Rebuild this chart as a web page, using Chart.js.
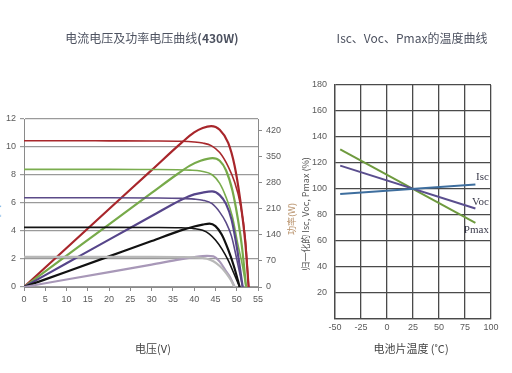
<!DOCTYPE html>
<html>
<head>
<meta charset="utf-8">
<script src="https://cdn.jsdelivr.net/npm/chart.js@4.4.1/dist/chart.umd.min.js"></script>
<style>
  html, body { margin:0; padding:0; background:#fff; }
  body { width:512px; height:373px; overflow:hidden; position:relative; }
  canvas { position:absolute; top:0; }
  .t { position:absolute; transform:translate(-50%,-50%); white-space:nowrap;
       font-family:"Noto Sans CJK SC","Noto Sans",sans-serif; color:#4d5260; line-height:1; }
  .rot { transform:translate(-50%,-50%) rotate(-90deg); }
</style>
</head>
<body>
<canvas id="left" width="290" height="373" style="left:0;width:290px;height:373px"></canvas>
<canvas id="right" width="222" height="373" style="left:290px;width:222px;height:373px"></canvas>

<div class="t" style="left:152px;top:38px;font-size:12px;">电流电压及功率电压曲线<b>(430W)</b></div>
<div class="t" style="left:412px;top:38px;font-size:12px;">Isc、Voc、Pmax的温度曲线</div>
<div class="t" style="left:153px;top:348px;font-size:11px;color:#444;">电压(V)</div>
<div class="t" style="left:411px;top:348px;font-size:11px;color:#444;">电池片温度 (˚C)</div>
<div class="t rot" style="left:-6px;top:223px;font-size:12px;color:#3a8fd8;">电流(A)</div>
<div class="t rot" style="left:291px;top:219px;font-size:9px;color:#b8916a;">功率(W)</div>
<div class="t rot" style="left:305px;top:214px;font-size:9px;color:#555;">归一化的 Isc, Voc, Pmax (%)</div>

<script>
// ---------- Left chart: I-V and P-V curves (430W) ----------
// 1000 W/m2 (red)
const vRed = [0, 10, 20, 30, 37, 40, 42, 44, 46, 48, 49.5, 50.8, 52, 52.8];
const iRed = [10.45, 10.45, 10.44, 10.43, 10.41, 10.36, 10.28, 10.1, 9.6, 8.6, 7.5, 6.0, 3.5, 0];
const pRed = [0, 104.4, 209, 313, 386, 414, 426, 431, 421, 386, 325, 235, 120, 0];
// 800 W/m2 (green)
const vGreen = [0, 10, 20, 30, 36, 39, 41.5, 44.3, 46, 47.5, 49, 50.3, 51.3, 52.2];
const iGreen = [8.4, 8.4, 8.4, 8.39, 8.38, 8.35, 8.28, 8.0, 7.4, 6.4, 5.0, 3.0, 1.6, 0];
const pGreen = [0, 84, 168, 252, 302, 325, 338, 345, 338, 312, 258, 180, 101, 0];
// 600 W/m2 (purple)
const vPurple = [0, 10, 20, 30, 37, 40, 42, 44.2, 46, 47.5, 48.8, 50.1, 51.4];
const iPurple = [6.37, 6.37, 6.37, 6.36, 6.33, 6.28, 6.2, 5.95, 5.35, 4.6, 3.6, 1.85, 0];
const pPurple = [0, 63.5, 127, 190, 234, 248, 253, 256, 246, 222, 180, 101, 0];
// 400 W/m2 (black)
const vBlack = [0, 10, 20, 30, 36.7, 40, 42, 43.6, 45, 46.5, 48, 49.3, 50.7];
const iBlack = [4.26, 4.26, 4.26, 4.25, 4.23, 4.17, 4.05, 3.78, 3.35, 2.72, 1.9, 1.0, 0];
const pBlack = [0, 41, 82, 123, 151, 162, 167, 170, 163, 140, 100, 57, 0];
// 200 W/m2 (light)
const vLight = [0, 10, 20, 30, 36.7, 40, 42, 43, 44.5, 46, 47.5, 48.5, 49.5];
const iLight = [2.15, 2.15, 2.15, 2.15, 2.14, 2.12, 2.07, 2.02, 1.84, 1.5, 1.0, 0.55, 0];
const pLight = [0, 20, 40, 60, 74, 80, 83, 83.5, 82, 68, 42, 25, 0];

const currentTicks = [0, 2, 4, 6, 8, 10, 12];
const powerTicks = [0, 70, 140, 210, 280, 350, 420];
const voltageTicks = [0, 5, 10, 15, 20, 25, 30, 35, 40, 45, 50, 55];

// ---------- Right chart: temperature curves ----------
const tempC = [-45, 85];
const iscPct = [96.2, 103.4];
const vocPct = [118, 85];
const pmaxPct = [130.5, 74];
const seriesNames = ['Isc', 'Voc', 'Pmax'];
const tempTicks = [-50, -25, 0, 25, 50, 75, 100];
const pctTicks = [0, 20, 40, 60, 80, 100, 120, 140, 160, 180];

function pts(xs, ys) { return xs.map((x, i) => ({ x: x, y: ys[i] })); }

const tickFont = { family: '"Liberation Sans", Arial, sans-serif', size: 9 };
const tickColor = '#5a5a5a';

function ivSet(xs, ys, color, w) {
  return { data: pts(xs, ys), yAxisID: 'y', borderColor: color, borderWidth: w || 1.6, fill: false };
}
function pvSet(xs, ys, color) {
  return { data: pts(xs, ys), yAxisID: 'y1', borderColor: color, borderWidth: 2.2, fill: false };
}

new Chart(document.getElementById('left'), {
  type: 'line',
  data: {
    datasets: [
      ivSet(vLight, iLight, '#b8b8b8', 2.2),
      pvSet(vLight, pLight, '#a898b8'),
      ivSet(vBlack, iBlack, '#141414'),
      pvSet(vBlack, pBlack, '#111111'),
      ivSet(vPurple, iPurple, '#5b4a88'),
      pvSet(vPurple, pPurple, '#56458a'),
      ivSet(vGreen, iGreen, '#7aad4e'),
      pvSet(vGreen, pGreen, '#77aa4a'),
      ivSet(vRed, iRed, '#a8282c'),
      pvSet(vRed, pRed, '#a8262b')
    ]
  },
  options: {
    responsive: false,
    animation: false,
    devicePixelRatio: 1,
    layout: { padding: { top: 119, left: 0, right: 0, bottom: 0 } },
    plugins: { legend: { display: false }, tooltip: { enabled: false }, title: { display: false } },
    elements: { point: { radius: 0 }, line: { cubicInterpolationMode: 'monotone' } },
    scales: {
      x: {
        type: 'linear', min: 0, max: 55,
        afterBuildTicks: s => { s.ticks = voltageTicks.map(v => ({ value: v })); },
        ticks: { font: tickFont, color: tickColor, padding: 3, maxRotation: 0 },
        grid: { drawOnChartArea: false, drawTicks: true, tickLength: 4, color: '#8a8a8a' },
        border: { color: '#8a8a8a', width: 1 },
        afterFit: s => { s.height = 86; }
      },
      y: {
        type: 'linear', position: 'left', min: 0, max: 12,
        afterBuildTicks: s => { s.ticks = currentTicks.map(v => ({ value: v })); },
        ticks: { font: tickFont, color: tickColor, padding: 4 },
        grid: { color: '#9a9a9a', lineWidth: 1.2, tickLength: 4 },
        border: { color: '#8a8a8a', width: 1 },
        afterFit: s => { s.width = 24; }
      },
      y1: {
        type: 'linear', position: 'right', min: 0, max: 450,
        afterBuildTicks: s => { s.ticks = powerTicks.map(v => ({ value: v })); },
        ticks: { font: tickFont, color: tickColor, padding: 4 },
        grid: { drawOnChartArea: false, tickLength: 4, color: '#8a8a8a' },
        border: { color: '#8a8a8a', width: 1 },
        afterFit: s => { s.width = 32; }
      }
    }
  }
});

const seriesLabelPlugin = {
  id: 'seriesLabels',
  afterDatasetsDraw(chart) {
    const ctx = chart.ctx, xs = chart.scales.x, ys = chart.scales.y;
    const anchorX = 98;            // right edge of labels, in °C
    const anchorY = [109, 90, 68]; // label centres, in %
    ctx.save();
    ctx.font = '11px "Liberation Serif", "Times New Roman", serif';
    ctx.fillStyle = '#3a3a4a';
    ctx.textAlign = 'right';
    ctx.textBaseline = 'middle';
    seriesNames.forEach((n, i) => {
      ctx.fillText(n, xs.getPixelForValue(anchorX), ys.getPixelForValue(anchorY[i]));
    });
    ctx.restore();
  }
};

new Chart(document.getElementById('right'), {
  type: 'line',
  data: {
    datasets: [
      { label: seriesNames[0], data: pts(tempC, iscPct), borderColor: '#3e6e9e', borderWidth: 2, fill: false },
      { label: seriesNames[1], data: pts(tempC, vocPct), borderColor: '#5a4e8e', borderWidth: 2, fill: false },
      { label: seriesNames[2], data: pts(tempC, pmaxPct), borderColor: '#6e9a3e', borderWidth: 2, fill: false }
    ]
  },
  plugins: [seriesLabelPlugin],
  options: {
    responsive: false,
    animation: false,
    devicePixelRatio: 1,
    layout: { padding: { top: 85, left: 0, right: 21, bottom: 0 } },
    plugins: { legend: { display: false }, tooltip: { enabled: false } },
    elements: { point: { radius: 0 } },
    scales: {
      x: {
        type: 'linear', min: -50, max: 100,
        afterBuildTicks: s => { s.ticks = tempTicks.map(v => ({ value: v })); },
        ticks: { font: tickFont, color: tickColor, padding: 3, maxRotation: 0 },
        grid: { color: '#4a4a4a', lineWidth: 1.3, drawTicks: false },
        border: { color: '#4a4a4a', width: 1.3 },
        afterFit: s => { s.height = 54; }
      },
      y: {
        type: 'linear', min: 0, max: 180,
        afterBuildTicks: s => { s.ticks = pctTicks.map(v => ({ value: v })); },
        ticks: { font: tickFont, color: tickColor, padding: 8, callback: v => (v === 0 ? '' : v) },
        grid: { color: '#4a4a4a', lineWidth: 1.3, drawTicks: false },
        border: { color: '#4a4a4a', width: 1.3 },
        afterFit: s => { s.width = 45; }
      }
    }
  }
});
</script>
</body>
</html>
